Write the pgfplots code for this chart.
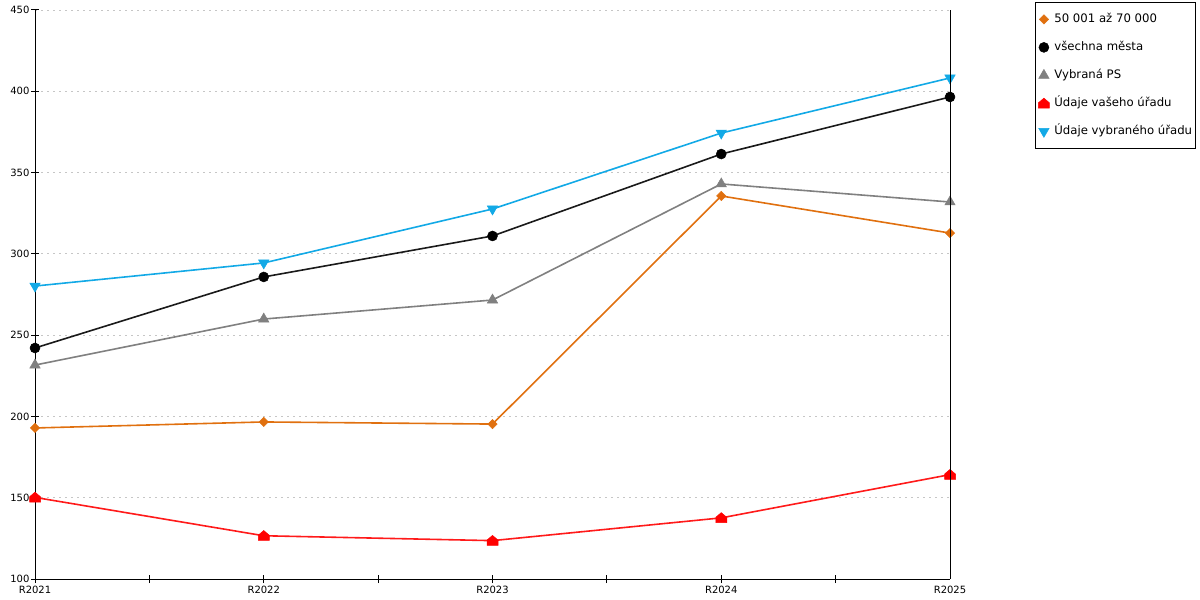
\documentclass[border=0pt]{standalone}
\usepackage{fontspec}
\setmainfont{DejaVu Sans}
\usepackage{pgfplots}
\pgfplotsset{compat=1.18}
\definecolor{cOr}{HTML}{E0700F}
\definecolor{cBk}{HTML}{1A1A1A}
\definecolor{cGr}{HTML}{808080}
\definecolor{cRd}{HTML}{FF1A1A}
\definecolor{cBl}{HTML}{12A9E6}
\pgfdeclareplotmark{house}{%
  \pgfpathmoveto{\pgfqpoint{-\pgfplotmarksize}{-0.85\pgfplotmarksize}}%
  \pgfpathlineto{\pgfqpoint{\pgfplotmarksize}{-0.85\pgfplotmarksize}}%
  \pgfpathlineto{\pgfqpoint{\pgfplotmarksize}{0.1\pgfplotmarksize}}%
  \pgfpathlineto{\pgfqpoint{0pt}{0.95\pgfplotmarksize}}%
  \pgfpathlineto{\pgfqpoint{-\pgfplotmarksize}{0.1\pgfplotmarksize}}%
  \pgfpathclose
  \pgfusepathqfillstroke}
\begin{document}
\begin{tikzpicture}[x=1pt,y=1pt]
\path[use as bounding box] (0,0) rectangle (1200,600);
\begin{axis}[
  name=ax,
  at={(35pt,21pt)}, anchor=south west,
  scale only axis, width=915pt, height=569pt,
  xmin=0, xmax=4, ymin=100, ymax=450,
  axis x line=bottom, axis y line=left,
  axis line style={-, line width=1pt, black},
  ytick={100,150,200,250,300,350,400,450},
  xtick={0,0.5,1,1.5,2,2.5,3,3.5},
  xticklabels={R2021,,R2022,,R2023,,R2024,},
  extra x ticks={4}, extra x tick labels={R2025},
  extra x tick style={major tick style={draw=none}},
  tick align=center, major tick length=8pt,
  tick style={black, line width=1pt},
  /pgf/number format/assume math mode=true,
  ticklabel style={font=\fontsize{10}{12}\selectfont},
  yticklabel style={xshift=2pt},
  ymajorgrids,
  grid style={gray!45, line width=0.8pt, dash pattern=on 2pt off 4pt},
  legend image code/.code={\draw[#1,only marks] plot coordinates {(0pt,0pt)};},
  legend style={at={(1.0929,1.0141)}, anchor=north west, draw=black, line width=0.8pt,
    font=\fontsize{11.7}{14}\selectfont, inner xsep=3pt, inner ysep=11pt,
    row sep=16pt, column sep=5pt,
    nodes={inner sep=0pt, text height=9pt, text depth=3pt}},
  legend cell align=left,
  every axis plot/.append style={line width=1.6pt},
]
\addplot[color=cOr, mark=square*, mark size=3.3pt, mark options={rotate=45,line width=0.5pt}]
  coordinates {(0,192.9)(1,196.6)(2,195.3)(3,335.6)(4,312.8)};
\addlegendentry{50 001 až 70 000}
\addplot[color=cBk, mark=*, mark size=5pt, mark options={fill=black,draw=black,line width=0.5pt}]
  coordinates {(0,242.1)(1,285.8)(2,311.0)(3,361.4)(4,396.5)};
\addlegendentry{všechna města}
\addplot[color=cGr, mark=triangle*, mark size=6pt, mark options={line width=0.5pt}]
  coordinates {(0,231.6)(1,259.9)(2,271.6)(3,343.0)(4,331.9)};
\addlegendentry{Vybraná PS}
\addplot[color=cRd, mark=house, mark size=5.5pt, mark options={fill=red,draw=red,line width=0.5pt}]
  coordinates {(0,150.2)(1,126.6)(2,123.6)(3,137.6)(4,164.2)};
\addlegendentry{Údaje vašeho úřadu}
\addplot[color=cBl, mark=triangle*, mark size=6pt, mark options={rotate=180,line width=0.5pt}]
  coordinates {(0,280.2)(1,294.4)(2,327.6)(3,374.3)(4,408.2)};
\addlegendentry{Údaje vybraného úřadu}
\end{axis}
\draw[black, line width=1pt] (ax.south east) -- (ax.north east);
\end{tikzpicture}
\end{document}
